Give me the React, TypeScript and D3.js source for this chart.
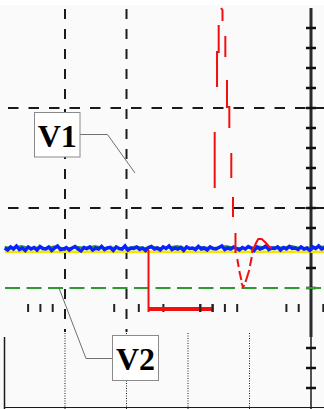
import React from "react";
import * as d3 from "d3";

const W = 324;
const H = 409;

// Grid, in screen divisions (time t, voltage v)
const dashedLevels = [2, 1];
const dashedTimes = [1, 2];
const dottedTimes = [1, 2, 3, 4];
const cursorV2Level = 0.2;
const axisTime = 5;
const axisTicksV = [2.8, 2.6, 2.4, 2.2, 2.0, 1.8, 1.6, 1.4, 1.2, 1.0, 0.8, 0.6, 0.4, 0.2, -0.4, -0.6, -0.8];
const axisTicksT = [0.4, 0.6, 0.8, 1.8, 2.2, 2.6, 3.2, 3.4, 3.6, 3.8, 4.6, 4.8, 5.2];

// Traces
const blueTrace = [
  0.60, 0.58, 0.61, 0.59, 0.62, 0.585, 0.60, 0.575, 0.61, 0.59,
  0.605, 0.58, 0.615, 0.595, 0.59, 0.61, 0.575, 0.60, 0.62, 0.585,
  0.59, 0.605, 0.58, 0.60, 0.615, 0.59, 0.57, 0.605, 0.595, 0.61,
  0.58, 0.60, 0.59, 0.615, 0.585, 0.60, 0.605, 0.575, 0.61, 0.595,
  0.59, 0.62, 0.58, 0.60, 0.595, 0.61, 0.585, 0.60, 0.575, 0.605,
  0.615, 0.59, 0.60, 0.58, 0.61, 0.595, 0.62, 0.585, 0.60, 0.59,
  0.605, 0.575, 0.61, 0.595, 0.60, 0.585, 0.615, 0.59, 0.60, 0.58,
  0.61, 0.595, 0.59, 0.605, 0.62, 0.585, 0.60, 0.59, 0.61, 0.595,
  0.58, 0.605, 0.59, 0.615, 0.60, 0.575, 0.61, 0.59, 0.60, 0.62,
  0.585, 0.60, 0.595, 0.61, 0.58, 0.605, 0.59, 0.615, 0.595, 0.60,
  0.585, 0.61, 0.59, 0.60, 0.575, 0.61, 0.595, 0.62, 0.59, 0.60,
];
const greenTrace = [
  0.61, 0.60, 0.62, 0.60, 0.605, 0.60, 0.615, 0.60, 0.60, 0.61,
  0.60, 0.62, 0.60, 0.605, 0.60, 0.60, 0.615, 0.60, 0.61, 0.60,
  0.605, 0.62, 0.60, 0.60, 0.61, 0.60, 0.605, 0.62, 0.60, 0.60,
  0.60, 0.615, 0.60, 0.61, 0.605, 0.62, 0.60, 0.60, 0.61, 0.615,
];
const traceStart = 0.02;
const traceEnd = 5.22;
const yellowLevel = 0.563;

const redBar: [number, number][] = [[2.358, -0.01], [3.407, -0.01]];
const redSegments: [number, number][][] = [
  [[2.358, 0.58], [2.358, -0.04]],
  [[3.434, 1.20], [3.434, 1.76]],
  [[3.472, 2.21], [3.472, 2.56], [3.499, 2.56], [3.499, 2.83]],
  [[3.537, 3.00], [3.561, 2.98], [3.561, 2.87]],
  [[3.607, 2.72], [3.607, 2.51]],
  [[3.634, 2.28], [3.634, 2.01], [3.672, 2.01], [3.672, 1.80]],
  [[3.704, 1.55], [3.704, 1.30]],
  [[3.732, 1.11], [3.732, 0.91]],
  [[3.772, 0.75], [3.772, 0.55]],
  [[3.802, 0.49], [3.824, 0.41]],
  [[3.834, 0.37], [3.867, 0.28]],
  [[3.870, 0.25], [3.894, 0.21], [3.919, 0.23]],
  [[3.935, 0.26], [3.997, 0.38]],
  [[4.008, 0.42], [4.036, 0.51]],
  [[4.041, 0.55], [4.062, 0.61]],
  [[4.073, 0.60], [4.106, 0.65], [4.143, 0.69], [4.198, 0.69], [4.268, 0.65], [4.322, 0.61], [4.366, 0.60]],
];

const labelTexts = ["V1", "V2"];

export default function App() {
  const x = d3.scaleLinear().domain([0, 5]).range([3.5, 311]);
  const y = d3.scaleLinear().domain([-1, 3]).range([408, 8]);
  const line = d3.line<[number, number]>().x((d) => x(d[0])).y((d) => y(d[1]));

  const tOf = (i: number, n: number) => traceStart + (i * (traceEnd - traceStart)) / (n - 1);
  const bluePts = blueTrace.map((v, i) => [tOf(i, blueTrace.length), v] as [number, number]);
  const greenPts = greenTrace.map((v, i) => [tOf(i, greenTrace.length), v] as [number, number]);

  const splitV = -0.29; // boundary between upper graticule and lower panel
  const black = "#1a1a1a";

  return (
    <svg width={W} height={H} style={{ position: "absolute", left: 0, top: 0 }} xmlns="http://www.w3.org/2000/svg">
      <rect x={0} y={0} width={W} height={H} fill="#ffffff" />
      <rect x={0} y={5} width={W} height={H - 5} fill="#fafafa" />

      {/* lower panel */}
      <line x1={4.5} x2={4.5} y1={y(splitV)} y2={H} stroke={black} strokeWidth={1.5} />
      <line x1={4} x2={W} y1={407.5} y2={407.5} stroke={black} strokeWidth={1} />
      {dottedTimes.map((t) => (
        <line key={"dot" + t} x1={x(t)} x2={x(t)} y1={y(-0.25)} y2={H} stroke={black} strokeWidth={1} strokeDasharray="1 1.5" />
      ))}

      {/* dashed graticule */}
      {dashedTimes.map((t) => (
        <line key={"dv" + t} x1={x(t)} x2={x(t)} y1={9} y2={y(-0.24)} stroke={black} strokeWidth={2} strokeDasharray="10 10" />
      ))}
      {dashedLevels.map((v) => (
        <line key={"dh" + v} x1={8} x2={W} y1={y(v)} y2={y(v)} stroke={black} strokeWidth={2} strokeDasharray="10.5 10" />
      ))}

      {/* right axis */}
      <line x1={x(axisTime)} x2={x(axisTime)} y1={y(3)} y2={y(splitV)} stroke="#2a2a2a" strokeWidth={3} />
      <line x1={x(axisTime)} x2={x(axisTime)} y1={y(splitV)} y2={H} stroke={black} strokeWidth={1.5} />
      {axisTicksV.map((v) => (
        <line key={"tv" + v} x1={x(axisTime) - 5} x2={x(axisTime) + 5} y1={y(v)} y2={y(v)} stroke="#111" strokeWidth={2.5} />
      ))}

      {/* center horizontal ticks */}
      {axisTicksT.map((t) => (
        <line key={"tt" + t} x1={x(t)} x2={x(t)} y1={y(0.04)} y2={y(-0.04)} stroke="#222" strokeWidth={2} />
      ))}

      {/* V2 cursor */}
      <line x1={5} x2={W} y1={y(cursorV2Level)} y2={y(cursorV2Level)} stroke="#2e9b2e" strokeWidth={2} strokeDasharray="15 6.5" />

      {/* traces */}
      <line x1={x(traceStart)} x2={x(traceEnd)} y1={y(yellowLevel)} y2={y(yellowLevel)} stroke="#f2e600" strokeWidth={2.5} />
      <path d={line(greenPts) ?? ""} fill="none" stroke="#2e9b2e" strokeWidth={2} />
      <path d={line(bluePts) ?? ""} fill="none" stroke="#0a22ff" strokeWidth={3.5} />

      <path d={line(redBar) ?? ""} fill="none" stroke="#f01010" strokeWidth={4} />
      {redSegments.map((seg, i) => (
        <path key={"r" + i} d={line(seg) ?? ""} fill="none" stroke="#f01010" strokeWidth={2} />
      ))}
      {axisTicksT.filter((t) => t > 3 && t < 3.5).map((t) => (
        <line key={"tt2" + t} x1={x(t)} x2={x(t)} y1={y(0.04)} y2={y(-0.04)} stroke="#222" strokeWidth={2} />
      ))}

      {/* V1 label */}
      <polyline points={`80,134.5 107.5,134.5 ${x(2.138)},${y(1.35)}`} fill="none" stroke="#707070" strokeWidth={1} />
      <rect x={34.5} y={112.5} width={45.5} height={44.5} fill="#ffffff" stroke="#8a8a8a" strokeWidth={1} />
      <text x={57.2} y={146.5} textAnchor="middle" fontFamily="'Liberation Serif', 'Times New Roman', serif" fontWeight="bold" fontSize={32}>
        {labelTexts[0]}
      </text>

      {/* V2 label */}
      <polyline points={`${x(0.902)},${y(cursorV2Level)} 86,358.5 112.5,358.5`} fill="none" stroke="#707070" strokeWidth={1} />
      <rect x={112.5} y={335.5} width={46} height={45} fill="#ffffff" stroke="#8a8a8a" strokeWidth={1} />
      <text x={135.5} y={370} textAnchor="middle" fontFamily="'Liberation Serif', 'Times New Roman', serif" fontWeight="bold" fontSize={32}>
        {labelTexts[1]}
      </text>
    </svg>
  );
}
